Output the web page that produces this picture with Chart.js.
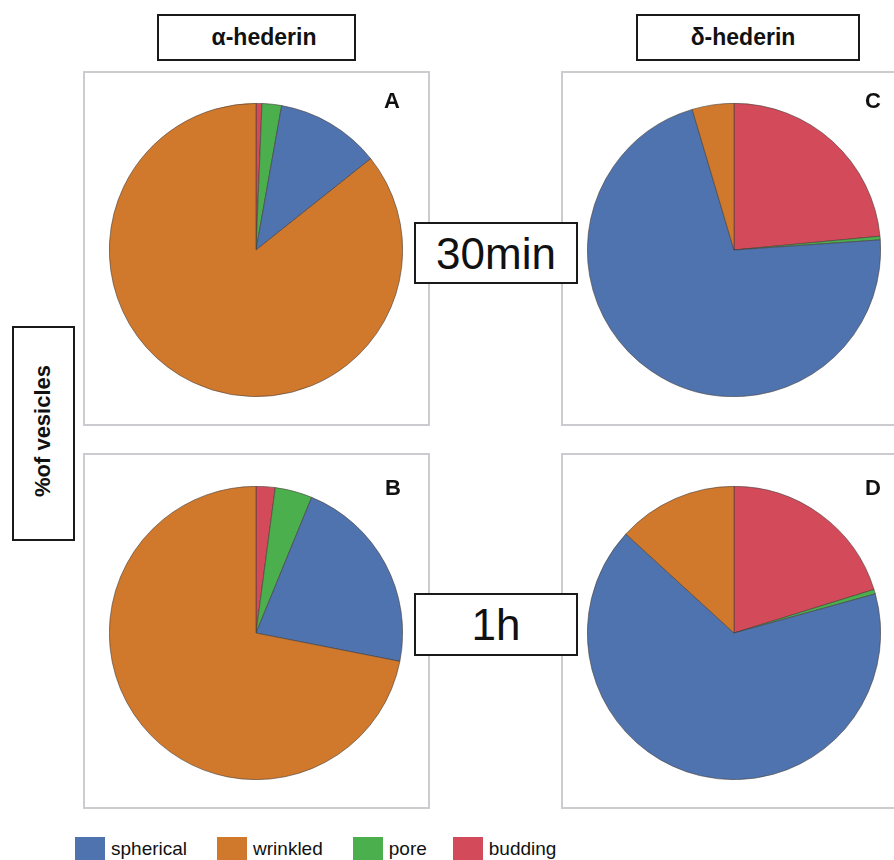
<!DOCTYPE html>
<html>
<head>
<meta charset="utf-8">
<script src="https://cdn.jsdelivr.net/npm/chart.js@4/dist/chart.umd.min.js"></script>
<style>
  html, body { margin: 0; padding: 0; background: #fff; }
  body { width: 894px; height: 860px; position: relative; overflow: hidden;
         font-family: 'Liberation Sans', Arial, Helvetica, sans-serif; color: #111; }
  .panel { position: absolute; box-sizing: border-box; border: 2px solid #cbcbd0; }
  .tag { position: absolute; box-sizing: border-box; border: 2px solid #1a1a1a; background: #fff; }
  .txt { position: absolute; white-space: nowrap; transform: translate(-50%, -50%); }
  .head { font-weight: bold; font-size: 23px; }
  .ylab { font-weight: bold; font-size: 22px; }
  .letter { font-weight: bold; font-size: 22px; }
  .time { font-size: 44px; }
  canvas { position: absolute; }
  #legend { position: absolute; left: 75px; top: 837px; display: flex; align-items: center; font-size: 19px; }
  #legend .sw { width: 30px; height: 23px; margin-right: 6px; }
  #legend .it { display: flex; align-items: center; margin-right: 30px; }
  #legend .it:nth-child(3) { margin-right: 26px; }
</style>
</head>
<body>

<!-- header labels -->
<div class="tag" style="left:157px; top:14px; width:199px; height:47px;"></div>
<div class="txt head" style="left:264px; top:37px;">α-hederin</div>
<div class="tag" style="left:636px; top:14px; width:224px; height:47px;"></div>
<div class="txt head" style="left:743px; top:37px;">δ-hederin</div>

<!-- y label -->
<div class="tag" style="left:12px; top:326px; width:63px; height:215px;"></div>
<div class="txt ylab" style="left:43px; top:431px; transform: translate(-50%, -50%) rotate(-90deg);">%of vesicles</div>

<!-- panel frames -->
<div class="panel" style="left:83px; top:71px; width:347px; height:355px;"></div>
<div class="panel" style="left:561px; top:71px; width:347px; height:355px;"></div>
<div class="panel" style="left:83px; top:453px; width:347px; height:356px;"></div>
<div class="panel" style="left:561px; top:453px; width:347px; height:356px;"></div>

<canvas id="pieA" width="294" height="294" style="left:109px; top:103px;"></canvas>
<canvas id="pieC" width="294" height="294" style="left:587px; top:103px;"></canvas>
<canvas id="pieB" width="294" height="294" style="left:109px; top:486px;"></canvas>
<canvas id="pieD" width="294" height="294" style="left:587px; top:486px;"></canvas>

<div class="txt letter" style="left:392px; top:101px;">A</div>
<div class="txt letter" style="left:873px; top:101px;">C</div>
<div class="txt letter" style="left:393px; top:488px;">B</div>
<div class="txt letter" style="left:873px; top:488px;">D</div>

<!-- time labels -->
<div class="tag" style="left:414px; top:222px; width:164px; height:62px;"></div>
<div class="txt time" style="left:496px; top:254px;">30min</div>
<div class="tag" style="left:414px; top:593px; width:164px; height:63px;"></div>
<div class="txt time" style="left:496px; top:625px;">1h</div>

<div id="legend"></div>

<script>
// --- データ ---
const categories = ['spherical', 'wrinkled', 'pore', 'budding'];
const colors     = ['#4f73ae', '#d0792c', '#4baf4e', '#d34a5a'];

// % of vesicles (spherical, wrinkled, pore, budding)
const alpha30 = [11.5, 85.7, 2.15, 0.65];   // A
const alpha1h = [21.9, 71.9, 4.1, 2.1];     // B
const delta30 = [71.5, 4.6, 0.4, 23.5];     // C
const delta1h = [66.1, 13.2, 0.5, 20.2];    // D

// 12時から時計回りに描く順番: budding, pore, spherical, wrinkled
const drawOrder = [3, 2, 0, 1];

function makePie(id, values) {
    const ctx = document.getElementById(id);
    return new Chart(ctx, {
        type: 'pie',
        data: {
            labels: drawOrder.map(i => categories[i]),
            datasets: [{
                data: drawOrder.map(i => values[i]),
                backgroundColor: drawOrder.map(i => colors[i]),
                borderColor: 'rgba(70,60,55,0.85)',
                borderWidth: 0.7,
            }]
        },
        options: {
            responsive: false,
            animation: false,
            devicePixelRatio: 1,
            layout: { padding: 0 },
            plugins: {
                legend: { display: false },
                tooltip: { enabled: false }
            }
        }
    });
}

makePie('pieA', alpha30);
makePie('pieB', alpha1h);
makePie('pieC', delta30);
makePie('pieD', delta1h);

// --- 凡例 ---
const legend = document.getElementById('legend');
categories.forEach((c, i) => {
    const it = document.createElement('div');
    it.className = 'it';
    it.innerHTML = `<span class="sw" style="background:${colors[i]}"></span><span>${c}</span>`;
    legend.appendChild(it);
});
</script>
</body>
</html>
